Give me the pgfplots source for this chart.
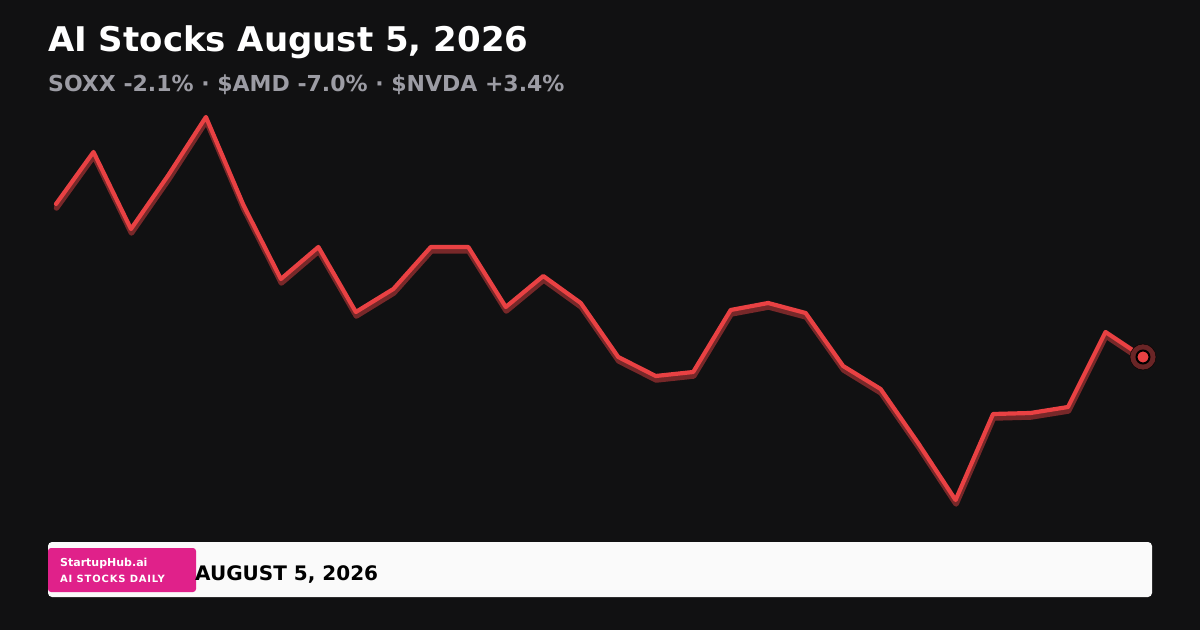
\documentclass[border=0pt]{standalone}
\usepackage{fontspec}
\setmainfont{DejaVu Sans}
\usepackage{pgfplots}
\pgfplotsset{compat=1.18}
\definecolor{bg}{HTML}{111112}
\definecolor{subgray}{HTML}{9C9CA4}
\definecolor{linered}{HTML}{E94143}
\definecolor{shadowred}{HTML}{772829}
\definecolor{halo}{HTML}{6A2526}
\definecolor{pink}{HTML}{E0218A}
\definecolor{barwhite}{HTML}{FAFAFA}
\pgfplotstableread{
i v
0 426
1 478
2 401
3 455
4 513
5 425
6 351
7 383
8 318
9 341
10 383
11 383
12 323
13 354
14 327
15 273
16 254
17 258
18 320
19 327
20 317
21 264
22 241
23 187
24 130
25 216
26 217
27 223
28 298
29 273
}\series
\begin{document}
\begin{tikzpicture}[x=1pt,y=1pt]
\fill[bg] (0,0) rectangle (1200,630);
\useasboundingbox (0,0) rectangle (1200,630);
\node[anchor=base west,inner sep=0,text=white,font=\fontsize{34}{40}\selectfont\bfseries] at (48,578) {AI Stocks August 5, 2026};
\node[anchor=base west,inner sep=0,text=subgray,font=\fontsize{22}{26}\selectfont\bfseries] at (48,538) {SOXX -2.1\% · \$AMD -7.0\% · \$NVDA +3.4\%};
\begin{axis}[at={(56pt,0pt)},anchor=origin,scale only axis,width=1087pt,height=630pt,
  xmin=0,xmax=29,ymin=0,ymax=630,hide axis,clip=false]
\addplot[shadowred,line width=5.5pt,line join=round,line cap=round,yshift=-4pt,xshift=0.5pt] table[x=i,y=v]{\series};
\addplot[linered,line width=4.2pt,line join=round,line cap=round] table[x=i,y=v]{\series};
\addplot[only marks,mark=*,mark size=13pt,mark options={fill=halo,draw=none}] coordinates {(29,273)};
\addplot[only marks,mark=*,mark size=6.5pt,mark options={fill=linered,draw=black,line width=2pt}] coordinates {(29,273)};
\end{axis}
\fill[barwhite,rounded corners=4pt] (48,33) rectangle (1152,88);
\fill[pink,rounded corners=3pt] (48,38) rectangle (196,82);
\node[anchor=base west,inner sep=0,text=white,font=\fontsize{11}{13}\selectfont\bfseries] at (60,64) {StartupHub.ai};
\node[anchor=base west,inner sep=0,text=white,font=\fontsize{10}{12}\selectfont\bfseries\addfontfeature{LetterSpace=8}] at (60,48) {AI STOCKS DAILY};
\node[anchor=base west,inner sep=0,text=black,font=\fontsize{20}{24}\selectfont\bfseries] at (195,50) {AUGUST 5, 2026};
\end{tikzpicture}
\end{document}
